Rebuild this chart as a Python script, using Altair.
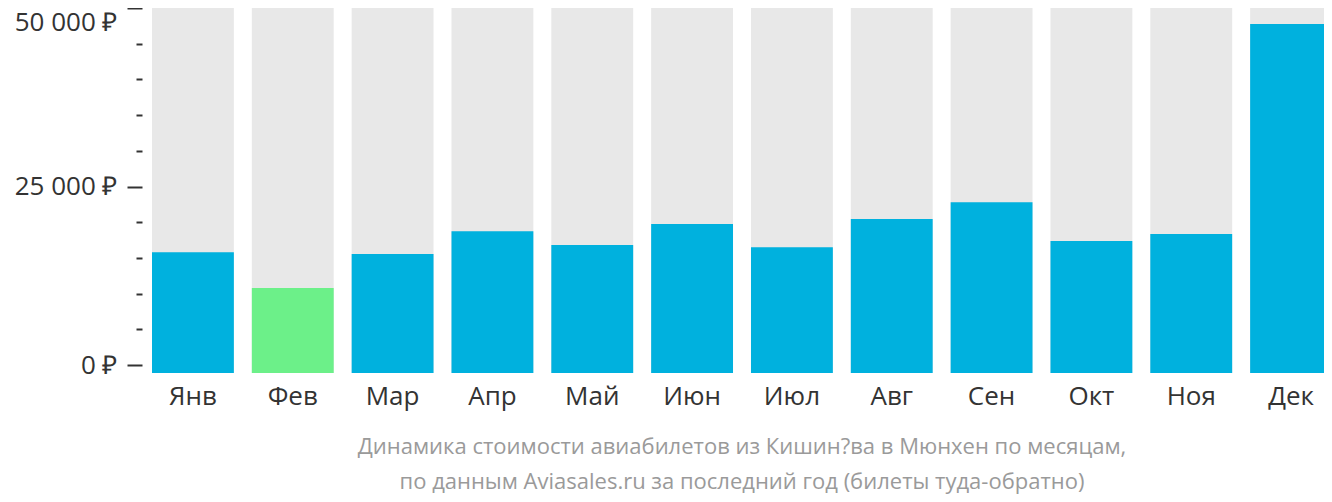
import altair as alt
import pandas as pd

months = ["Янв", "Фев", "Мар", "Апр", "Май", "Июн", "Июл", "Авг", "Сен", "Окт", "Ноя", "Дек"]
prices = [15800, 10800, 15550, 18750, 16800, 19750, 16500, 20450, 22800, 17350, 18350, 47750]
kind = ["обычный", "минимум", "обычный", "обычный", "обычный", "обычный", "обычный", "обычный", "обычный", "обычный", "обычный", "обычный"]
y_ticks = [0, 5000, 10000, 15000, 20000, 25000, 30000, 35000, 40000, 45000, 50000]
caption = ["Динамика стоимости авиабилетов из Кишин?ва в Мюнхен по месяцам,",
           "по данным Aviasales.ru за последний год (билеты туда-обратно)"]

Y_MIN, Y_MAX = -1120, 51120

df = pd.DataFrame({"month": months, "price": prices, "kind": kind})

FONT = "Open Sans"

x_enc = alt.X("month:N", sort=months,
              scale=alt.Scale(paddingInner=0.18, paddingOuter=0),
              axis=alt.Axis(title=None, ticks=False, domain=False, labelAngle=0,
                            labelFont=FONT, labelFontSize=26, labelColor="#333333",
                            labelPadding=10))
y_scale = alt.Scale(domain=[Y_MIN, Y_MAX], nice=False, zero=False)

bg = alt.Chart(df).mark_bar(color="#e8e8e8").encode(
    x=x_enc,
    y=alt.Y(datum=Y_MAX, scale=y_scale,
            axis=alt.Axis(title=None, values=y_ticks, tickCount=30, domain=False, grid=False,
                          offset=10, labelOverlap=False,
                          tickColor="#333333", tickWidth=2,
                          tickSize={"condition": {"test": "datum.value % 25000 === 0", "value": 15}, "value": 6},
                          labelExpr="datum.value % 25000 === 0 ? replace(format(datum.value, ',d'), ',', ' ') + ' ₽' : ''",
                          labelBaseline={"condition": {"test": "datum.value === 50000", "value": "top"}, "value": "middle"},
                          labelOffset={"condition": {"test": "datum.value === 50000", "value": 2}, "value": 0},
                          labelFont=FONT, labelFontSize=26, labelColor="#333333",
                          labelPadding=10)),
    y2=alt.Y2(datum=Y_MIN),
)

bars = alt.Chart(df).mark_bar().encode(
    x=x_enc,
    y=alt.Y("price:Q", scale=y_scale),
    y2=alt.Y2(datum=Y_MIN),
    color=alt.Color("kind:N", scale=alt.Scale(domain=["обычный", "минимум"],
                                              range=["#00b1de", "#6cf089"]), legend=None),
)

chart = alt.layer(bg, bars).properties(
    width=1180, height=373,
    autosize=alt.AutoSizeParams(type="none"),
    padding={"left": 144, "top": -8, "right": -8, "bottom": 121},
    title=alt.TitleParams(text=caption, orient="bottom", anchor="middle",
                          font=FONT, fontSize=22, fontWeight="normal",
                          color="#9a9a9a", lineHeight=35, offset=28),
).configure_view(stroke=None)

chart.save("out.html", embed_options={"renderer": "svg", "actions": False})
